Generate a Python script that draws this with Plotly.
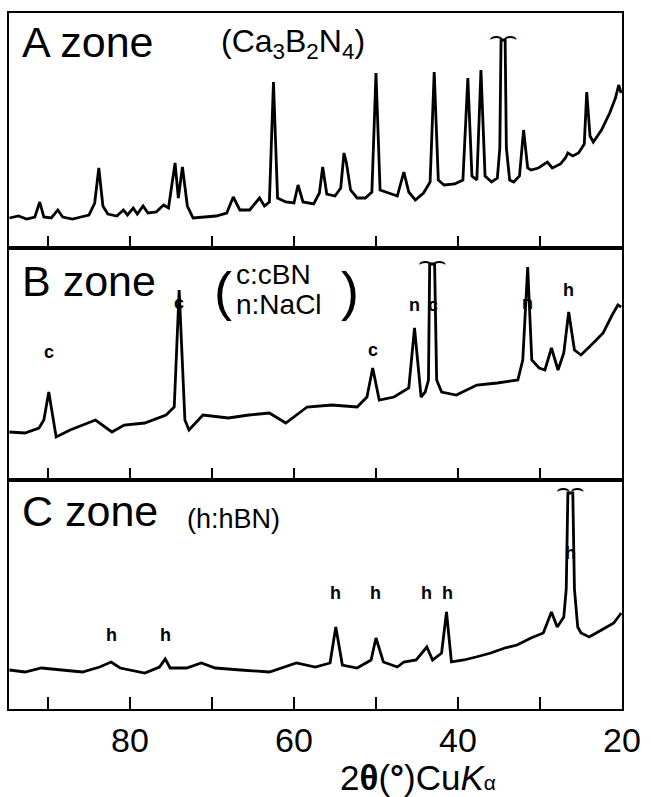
import plotly.graph_objects as go
from plotly.subplots import make_subplots

# ---------------- data (2θ in degrees, intensity in arbitrary units) ----------------
a_deg = [94.7, 93.6, 92.6, 91.6, 91.0, 90.5, 89.6, 88.8, 88.2, 87.0, 86.0, 85.0, 84.3, 83.8, 83.3,
         82.7, 81.6, 80.8, 80.3, 79.6, 79.1, 78.4, 77.8, 76.8, 75.9, 75.3, 74.5, 74.1, 73.6, 73.0,
         72.3, 71.0, 69.5, 68.2, 67.4, 66.6, 65.4, 64.2, 63.6, 63.0, 62.5, 62.0, 61.0, 60.0, 59.5,
         58.9, 57.6, 56.9, 56.5, 56.0, 55.0, 54.3, 53.9, 53.6, 53.1, 52.3, 51.3, 50.5, 50.0, 49.5,
         48.4, 47.4, 46.6, 46.0, 45.2, 44.2, 43.4, 42.9, 42.4, 41.7, 40.4, 39.4, 38.8, 38.3, 37.7,
         37.2, 36.7, 35.9, 35.2, 34.9, 34.75, 34.25, 34.1, 33.7, 33.2, 32.5, 32.0, 31.5, 31.1, 30.2,
         29.1, 28.5, 27.5, 26.9, 26.6, 26.0, 25.3, 24.6, 24.3, 23.9, 23.5, 22.5, 21.5, 20.8, 20.4, 20.1]
a_int = [30, 32, 29, 31, 46, 31, 30, 38, 31, 29, 31, 33, 45, 80, 42,
         34, 32, 38, 33, 40, 34, 42, 35, 36, 43, 40, 85, 50, 81, 42,
         30, 31, 32, 35, 51, 38, 38, 50, 42, 46, 166, 50, 46, 45, 63,
         46, 44, 55, 81, 54, 52, 60, 95, 85, 58, 50, 50, 56, 175, 58,
         55, 52, 76, 56, 48, 55, 66, 176, 68, 63, 64, 68, 170, 72, 68,
         178, 72, 66, 70, 100, 208, 208, 100, 68, 66, 72, 118, 80, 78, 80,
         86, 80, 84, 90, 95, 92, 95, 104, 156, 112, 106, 118, 135, 150, 163, 155]

b_deg = [94.7, 92.8, 91.1, 90.5, 89.9, 89.0, 87.3, 84.2, 82.2, 80.7, 78.2, 75.6, 74.6, 74.0, 73.3,
         72.8, 71.1, 68.0, 65.5, 63.0, 61.0, 58.4, 55.4, 52.3, 51.1, 50.4, 49.6, 47.8, 46.0, 45.3,
         44.5, 44.0, 43.6, 43.45, 42.85, 42.6, 42.0, 40.2, 37.7, 35.2, 32.7, 32.1, 31.5, 31.0, 30.1,
         29.4, 28.6, 27.8, 27.1, 26.5, 25.8, 25.0, 23.5, 22.3, 21.2, 20.5, 20.1]
b_int = [48, 47, 52, 60, 88, 43, 50, 60, 48, 55, 57, 65, 73, 190, 60,
         50, 65, 62, 65, 67, 57, 73, 75, 73, 83, 112, 80, 83, 92, 152,
         83, 88, 100, 216, 216, 100, 88, 85, 95, 97, 100, 120, 213, 120, 112,
         110, 132, 110, 127, 168, 130, 125, 137, 147, 165, 175, 173]

c_deg = [94.7, 92.8, 90.8, 88.3, 85.8, 83.7, 82.3, 81.2, 78.2, 76.4, 75.7, 75.1, 73.1, 71.3, 69.6,
         66.5, 63.0, 59.7, 57.4, 55.6, 54.9, 54.1, 52.3, 50.6, 50.0, 49.1, 47.4, 46.6, 45.1, 43.8,
         43.1, 42.0, 41.4, 40.8, 39.3, 37.8, 36.0, 34.3, 32.8, 31.1, 29.6, 28.6, 27.9, 27.1, 26.8,
         26.6, 26.0, 25.8, 25.4, 25.0, 24.0, 22.5, 21.0, 20.1]
c_int = [39, 37, 41, 39, 37, 42, 47, 41, 36, 42, 50, 41, 41, 46, 41,
         39, 37, 46, 42, 46, 82, 44, 41, 49, 71, 47, 42, 47, 49, 62,
         49, 56, 97, 47, 49, 52, 56, 61, 64, 71, 76, 97, 82, 92, 120,
         216, 216, 120, 82, 76, 72, 79, 86, 96]

# peak labels
b_lbl_deg = [89.9, 74.0, 50.4, 45.3, 43.1, 31.5, 26.5]
b_lbl_int = [128, 177, 130, 175, 175, 177, 190]
b_lbl_txt = ["c", "c", "c", "n", "c", "n", "h"]
c_lbl_deg = [82.3, 75.7, 54.9, 50.0, 43.8, 41.3, 26.3]
c_lbl_int = [74, 74, 116, 116, 116, 116, 156]
c_lbl_txt = ["h", "h", "h", "h", "h", "h", "h"]

# truncated peaks (break mark position)
brk_deg = [34.5, 43.15, 26.3]
brk_int = [213, 220, 221]

tick_vals = [80, 60, 40, 20]
tick_text = ["80", "60", "40", "20"]
minor_step = 10

# ---------------- figure ----------------
W, H = 651, 797
L, R, T, B = 9, 29, 13, 88
PW, PH = W - L - R, H - T - B

fig = make_subplots(rows=3, cols=1, shared_xaxes=True, vertical_spacing=0)

line = dict(color="black", width=2.8)
fig.add_trace(go.Scatter(x=a_deg, y=a_int, mode="lines", line=line, hoverinfo="skip"), row=1, col=1)
fig.add_trace(go.Scatter(x=b_deg, y=b_int, mode="lines", line=line, hoverinfo="skip"), row=2, col=1)
fig.add_trace(go.Scatter(x=c_deg, y=c_int, mode="lines", line=line, hoverinfo="skip"), row=3, col=1)

FONT = "Liberation Sans, Arial, sans-serif"
ann = []

def pxp(x, y):
    return (x - L) / PW, 1 - (y - T) / PH

# panel titles
for txt, (x, y), size in [
    ("A zone", (20, 42), 43),
    ("B zone", (20, 281), 43),
    ("C zone", (20, 511), 43),
]:
    px_, py_ = pxp(x, y)
    ann.append(dict(text=txt, x=px_, y=py_, xref="paper", yref="paper", xanchor="left",
                    yanchor="middle", showarrow=False, font=dict(size=size, family=FONT, color="black")))

# compound notes
for txt, (x, y), size in [
    ("(Ca<sub>3</sub>B<sub>2</sub>N<sub>4</sub>)", (219, 44), 32),
    ("c:cBN", (234, 275), 28),
    ("n:NaCl", (234, 304), 28),
    ("(h:hBN)", (185, 519), 27),
]:
    px_, py_ = pxp(x, y)
    ann.append(dict(text=txt, x=px_, y=py_, xref="paper", yref="paper", xanchor="left",
                    yanchor="middle", showarrow=False, font=dict(size=size, family=FONT, color="black")))

for txt, x in [("(", 223), (")", 350)]:
    px_, py_ = pxp(x, 291)
    ann.append(dict(text=txt, x=px_, y=py_, xref="paper", yref="paper", xanchor="center",
                    yanchor="middle", showarrow=False,
                    font=dict(size=54, family="DejaVu Sans ExtraLight, Liberation Sans", color="black")))

# peak labels
lbl_font = dict(size=18, family="Liberation Sans Narrow, Liberation Sans, Arial", color="black")
for d, v, t in zip(b_lbl_deg, b_lbl_int, b_lbl_txt):
    ann.append(dict(text="<b>%s</b>" % t, x=d, y=v, xref="x2", yref="y2", showarrow=False,
                    xanchor="center", yanchor="middle", font=lbl_font))
for d, v, t in zip(c_lbl_deg, c_lbl_int, c_lbl_txt):
    ann.append(dict(text="<b>%s</b>" % t, x=d, y=v, xref="x3", yref="y3", showarrow=False,
                    xanchor="center", yanchor="middle", font=lbl_font))

# break marks on truncated peaks
for (d, v), (xr, yr_) in zip(zip(brk_deg, brk_int), [("x", "y"), ("x2", "y2"), ("x3", "y3")]):
    ann.append(dict(text="⌢⌢", x=d, y=v, xref=xr, yref=yr_, showarrow=False,
                    xanchor="center", yanchor="middle",
                    font=dict(size=22, family="DejaVu Sans", color="black")))

# x title
px_, py_ = pxp(418, 777)
ann.append(dict(text="2<b>θ</b>(<b>°</b>)Cu<i>K</i><span style='font-size:21px'>α</span>",
                x=px_, y=py_, xref="paper", yref="paper", xanchor="center", yanchor="middle",
                showarrow=False, font=dict(size=35, family=FONT, color="black")))

fig.update_layout(
    width=W, height=H, margin=dict(l=L, r=R, t=T, b=B, autoexpand=False),
    paper_bgcolor="white", plot_bgcolor="white", showlegend=False,
    annotations=ann,
)

hC = 229 / PH
hB = 232 / PH
doms = {1: [hC + hB, 1.0], 2: [hC, hC + hB], 3: [0.0, hC]}
yr = {1: [0, 235], 2: [0, 232], 3: [0, 229]}
for r in (1, 2, 3):
    fig.update_xaxes(row=r, col=1, range=[94.75, 20], tickmode="array",
                     tickvals=tick_vals, ticktext=tick_text, automargin=False,
                     ticks="inside", ticklen=12, tickwidth=2, tickcolor="black",
                     minor=dict(ticks="inside", dtick=minor_step, tick0=20, ticklen=12,
                                tickwidth=2, tickcolor="black", showgrid=False),
                     showline=True, linewidth=2, linecolor="black", mirror=True,
                     showgrid=False, zeroline=False, showticklabels=(r == 3),
                     tickfont=dict(size=34, family=FONT, color="black"))
    fig.update_yaxes(row=r, col=1, domain=doms[r], range=yr[r], showticklabels=False, ticks="",
                     automargin=False,
                     showline=True, linewidth=2, linecolor="black", mirror=True,
                     showgrid=False, zeroline=False)

fig.write_html("out.html")
